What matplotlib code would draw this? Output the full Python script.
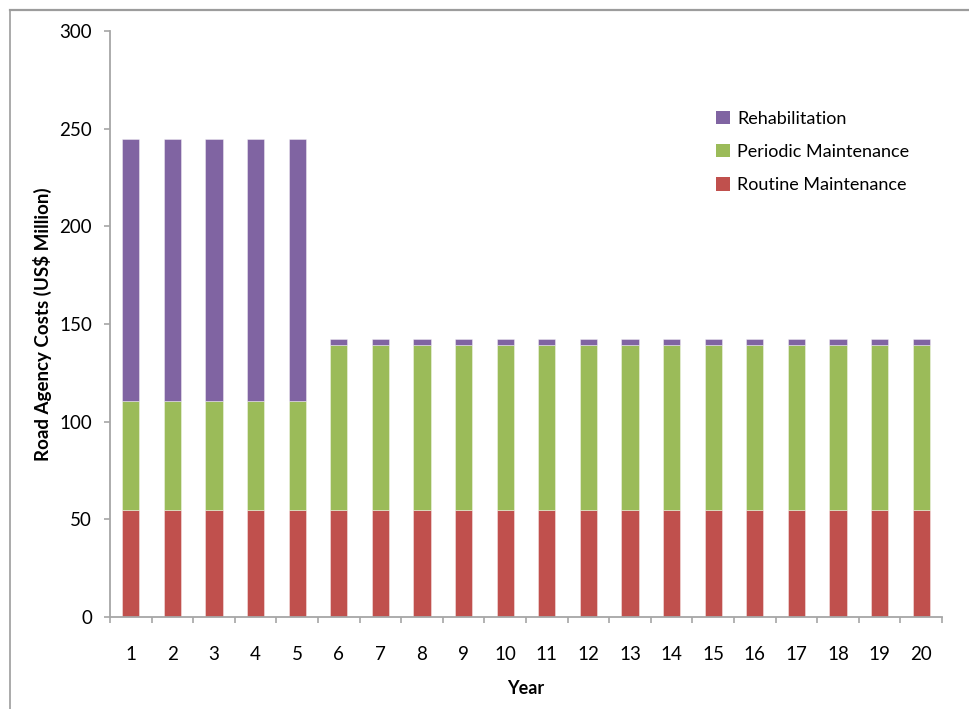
import matplotlib
matplotlib.use("Agg")
import matplotlib.pyplot as plt
from matplotlib.lines import Line2D
from matplotlib.patches import Patch
import numpy as np

plt.rcParams['font.family'] = ['Lato', 'DejaVu Sans']

# Road agency costs by year (US$ million)
years = list(range(1, 21))
routine = [55] * 20
periodic = [55.5] * 5 + [84.5] * 15
rehabilitation = [134] * 5 + [2.7] * 15
series_names = ["Routine Maintenance", "Periodic Maintenance", "Rehabilitation"]
colors = ["#C0504D", "#9BBB59", "#8064A2"]
y_ticks = [0, 50, 100, 150, 200, 250, 300]

fig = plt.figure(figsize=(9.69, 7.09), dpi=100)
ax = fig.add_axes([110 / 969, 1 - 617 / 709, 832 / 969, 586 / 709])

x = np.array(years)
bottom = np.zeros(len(years))
handles = []
for name, vals, col in zip(series_names, [routine, periodic, rehabilitation], colors):
    vals = np.array(vals, dtype=float)
    ax.bar(x, vals, width=0.41, bottom=bottom, color=col,
           edgecolor=(1, 1, 1, 0.45), linewidth=0.6, zorder=2)
    bottom += vals
    handles.append(Patch(facecolor=col, edgecolor="none", label=name))

axis_grey = "#A6A6A6"
ax.set_xlim(0.5, 20.5)
ax.set_ylim(0, 300)
ax.set_yticks(y_ticks)
ax.set_xticks(x)
ax.set_xticklabels([str(v) for v in years])
ax.set_xticks(np.arange(0.5, 21, 1), minor=True)

for side in ["top", "right"]:
    ax.spines[side].set_visible(False)
for side in ["left", "bottom"]:
    ax.spines[side].set_color(axis_grey)
    ax.spines[side].set_linewidth(1.3)

ax.tick_params(axis="y", which="major", direction="out", length=4, width=1.2,
               color=axis_grey, pad=9, labelsize=13.5, labelcolor="black")
ax.tick_params(axis="x", which="major", length=0, pad=21, labelsize=13.5,
               labelcolor="black")
ax.tick_params(axis="x", which="minor", direction="out", length=4, width=1.2,
               color=axis_grey)

ax.set_ylabel("Road Agency Costs (US$ Million)", fontsize=13.5, fontweight="bold",
              labelpad=5)
ax.set_xlabel("Year", fontsize=13, fontweight="bold", labelpad=12)

leg = ax.legend(handles=handles[::-1], loc="upper left",
                bbox_to_anchor=(0.72, 0.876), frameon=False, fontsize=13,
                handlelength=0.75, handleheight=0.75, handletextpad=0.4,
                labelspacing=0.95, borderaxespad=0)

# outer chart frame (top and left edges)
fx = 9.5 / 969
fy = 1 - 9.5 / 709
fig.add_artist(Line2D([fx, 1], [fy, fy], transform=fig.transFigure,
                      color="#9C9C9C", linewidth=1.6))
fig.add_artist(Line2D([fx, fx], [0, fy], transform=fig.transFigure,
                      color="#9C9C9C", linewidth=1.2))

fig.savefig("out.png", dpi=100)
